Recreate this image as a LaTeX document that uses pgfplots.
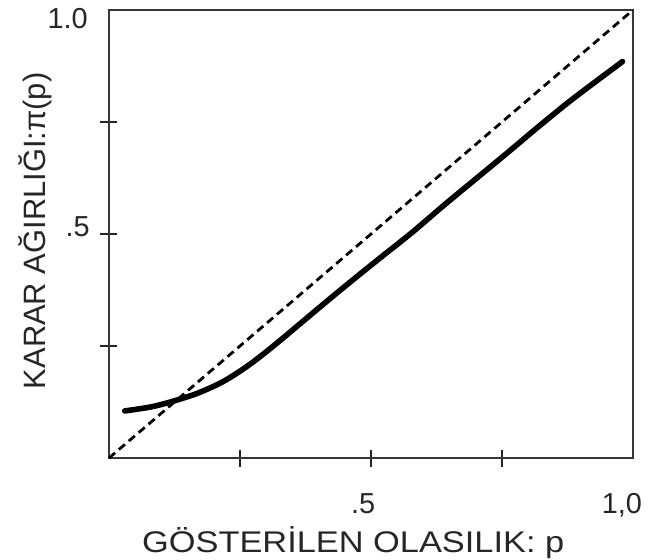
\documentclass[border=0pt]{standalone}
\usepackage{fontspec}
\setmainfont{Liberation Sans}
\newfontfamily\widefont[FakeStretch=1.15]{Liberation Sans}
\usepackage{pgfplots}
\pgfplotsset{compat=1.18}
\begin{document}
\begin{tikzpicture}
\useasboundingbox (-109bp,-102bp) rectangle (541bp,458bp);
\begin{axis}[
  at={(0bp,0bp)}, anchor=south west,
  scale only axis, width=524bp, height=448bp,
  xmin=0, xmax=1, ymin=0, ymax=1,
  axis line style={line width=2.4bp, color=black!78},
  xtick={0.25,0.5,0.75}, ytick={0.25,0.5,0.75},
  xticklabels={}, yticklabels={},
  xtick pos=lower, ytick pos=left,
  tick align=center, major tick length=17bp,
  tick style={line width=1.6bp, color=black!85},
  clip=false,
]
\addplot[black, line width=2.8bp, dash pattern=on 8bp off 5bp] coordinates {(0,0) (1,1)};
\addplot[black, line width=5.6bp, smooth, line cap=round] coordinates {
(0.03,0.105) (0.08,0.114) (0.12,0.126) (0.17,0.145) (0.22,0.172)
(0.27,0.210) (0.32,0.256) (0.37,0.305) (0.42,0.354) (0.47,0.402)
(0.52,0.449) (0.58,0.505) (0.64,0.565) (0.70,0.623) (0.76,0.681)
(0.82,0.740) (0.88,0.797) (0.94,0.850) (0.98,0.885)};
\node[anchor=east, text=black!85, font=\fontsize{29}{30}\selectfont, inner sep=0pt] at (axis cs:0,0.982) [xshift=-21bp] {1.0};
\node[anchor=east, text=black!85, font=\fontsize{29}{30}\selectfont, inner sep=0pt] at (axis cs:0,0.516) [xshift=-19bp] {.5};
\node[anchor=base, text=black!85, font=\fontsize{29}{30}\selectfont, inner sep=0pt] at (axis cs:0.485,0) [yshift=-55bp] {.5};
\node[anchor=base west, text=black!85, font=\fontsize{29}{30}\selectfont, inner sep=0pt] at (axis cs:0.94,0) [yshift=-55bp] {1,0};
\node[anchor=base, text=black!85, font=\widefont\fontsize{30}{31}\selectfont, inner sep=0pt] at (rel axis cs:0.466,0) [yshift=-94bp] {GÖSTERİLEN OLASILIK: p};
\node[anchor=base, rotate=90, text=black!85, font=\fontsize{31}{32}\selectfont, inner sep=0pt] at (rel axis cs:-0.1221,0.507) {KARAR AĞIRLIĞI:π(p)};
\end{axis}
\end{tikzpicture}
\end{document}
